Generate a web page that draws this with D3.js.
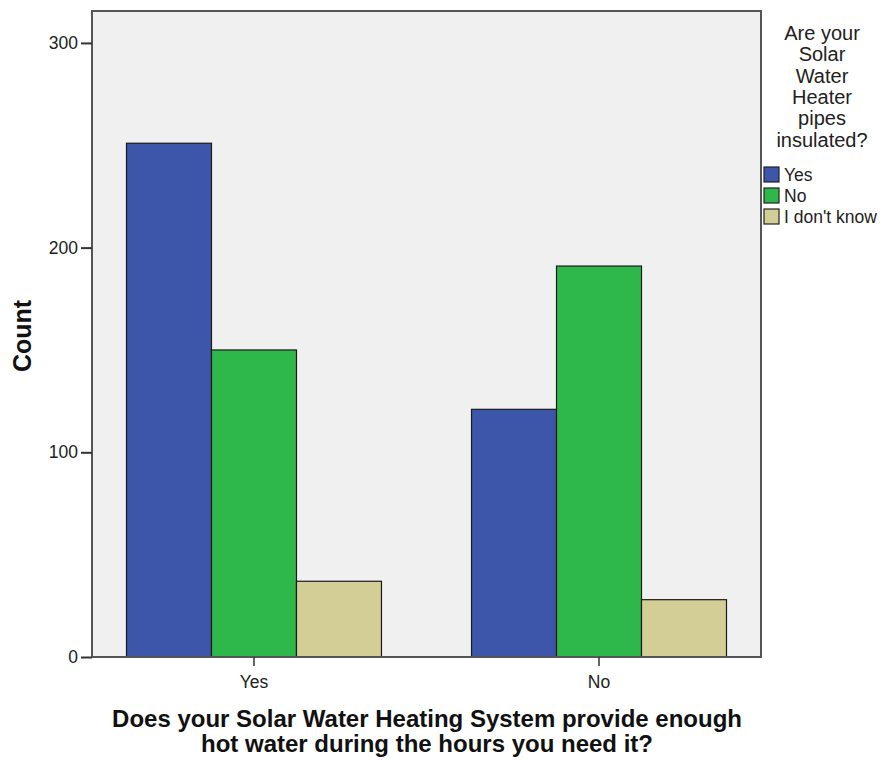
<!DOCTYPE html>
<html>
<head>
<meta charset="utf-8">
<script src="https://cdn.jsdelivr.net/npm/d3@7"></script>
<style>
  body { margin: 0; background: #fff; }
  svg { display: block; font-family: Arial, "Liberation Sans", sans-serif; }
</style>
</head>
<body>
<svg id="chart" width="883" height="760"></svg>
<script>
const categories = ["Yes", "No"];
const seriesNames = ["Yes", "No", "I don't know"];
const valuesYes = [251, 150, 37];
const valuesNo = [121, 191, 28];
const yTicks = [0, 100, 200, 300];
const colors = ["#3d56aa", "#2fb84a", "#d3ce96"];

const svg = d3.select("#chart");
const pLeft = 92, pRight = 761, pTop = 11, pBottom = 657;
const FONT = "Arial, 'Liberation Sans', sans-serif";

const x0 = d3.scaleBand().domain(categories).range([pLeft, pRight]).paddingInner(0.261).paddingOuter(0.1);
const x1 = d3.scaleBand().domain(seriesNames).range([0, x0.bandwidth()]);
const y = d3.scaleLinear().domain([0, 315.6]).range([pBottom, pTop]);

svg.append("rect").attr("x", pLeft).attr("y", pTop).attr("width", pRight - pLeft).attr("height", pBottom - pTop)
  .attr("fill", "#f0f0f0");

const data = [valuesYes, valuesNo];
categories.forEach((c, i) => {
  const g = svg.append("g").attr("transform", `translate(${x0(c)},0)`);
  g.selectAll("rect").data(data[i]).enter().append("rect")
    .attr("x", (d, j) => x1(seriesNames[j]))
    .attr("y", d => y(d))
    .attr("width", x1.bandwidth())
    .attr("height", d => y(0) - y(d))
    .attr("fill", (d, j) => colors[j])
    .attr("stroke", "#1a1a1a").attr("stroke-width", 1.2);
});

svg.append("rect").attr("x", pLeft).attr("y", pTop).attr("width", pRight - pLeft).attr("height", pBottom - pTop)
  .attr("fill", "none").attr("stroke", "#555").attr("stroke-width", 2);

const yAxis = svg.append("g").attr("transform", `translate(${pLeft},0)`)
  .call(d3.axisLeft(y).tickValues(yTicks).tickSize(11).tickPadding(3));
yAxis.select(".domain").remove();
yAxis.selectAll("line").attr("stroke", "#333").attr("stroke-width", 2);
yAxis.selectAll("text").attr("font-size", 17.5).attr("fill", "#222").attr("font-family", FONT);

const xAxis = svg.append("g").attr("transform", `translate(0,${pBottom})`)
  .call(d3.axisBottom(x0).tickSize(9).tickPadding(10));
xAxis.select(".domain").remove();
xAxis.selectAll("line").attr("stroke", "#333").attr("stroke-width", 1.5);
xAxis.selectAll("text").attr("font-size", 17.5).attr("fill", "#222").attr("font-family", FONT);

svg.append("text").attr("transform", "translate(31,336) rotate(-90)")
  .attr("text-anchor", "middle").attr("font-size", 25).attr("font-weight", "bold").attr("fill", "#111")
  .text("Count");

const xt = svg.append("text").attr("text-anchor", "middle").attr("font-size", 24).attr("font-weight", "bold").attr("fill", "#111");
xt.append("tspan").attr("x", 427).attr("y", 727).text("Does your Solar Water Heating System provide enough");
xt.append("tspan").attr("x", 427).attr("y", 752).text("hot water during the hours you need it?");

const legendTitle = ["Are your", "Solar", "Water", "Heater", "pipes", "insulated?"];
const lt = svg.append("text").attr("text-anchor", "middle").attr("font-size", 20).attr("fill", "#222");
legendTitle.forEach((t, i) => lt.append("tspan").attr("x", 822).attr("y", 40 + i * 21.3).text(t));

seriesNames.forEach((s, i) => {
  const yy = 167 + i * 21;
  svg.append("rect").attr("x", 764).attr("y", yy).attr("width", 15).attr("height", 15)
    .attr("fill", colors[i]).attr("stroke", "#222").attr("stroke-width", 1.2);
  svg.append("text").attr("x", 784).attr("y", yy + 14).attr("font-size", 17.5).attr("fill", "#222").text(s);
});
</script>
</body>
</html>
